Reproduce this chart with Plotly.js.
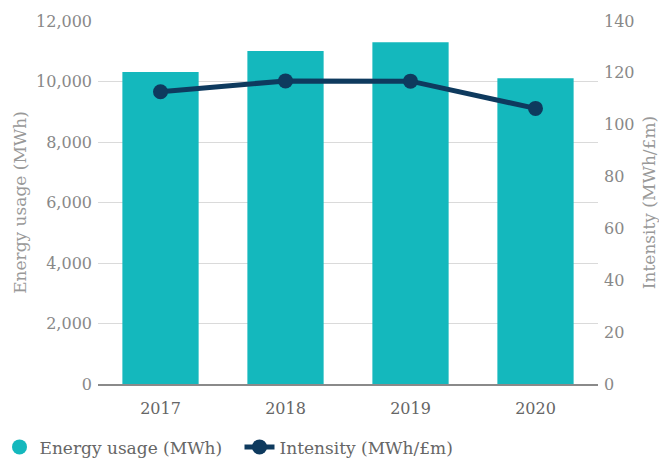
<!DOCTYPE html>
<html>
<head>
<meta charset="utf-8">
<script src="https://cdn.plot.ly/plotly-3.0.1.min.js"></script>
<style>
  html, body { margin: 0; padding: 0; background: #fff; }
  #chart { width: 659px; height: 458px; }
</style>
</head>
<body>
<div id="chart"></div>
<script>
// Annual energy usage (bars, left axis) and intensity (line, right axis)
const years = ['2017', '2018', '2019', '2020'];
const energyUsage = [10310, 11010, 11300, 10110];   // MWh
const intensity = [112.7, 116.9, 116.8, 106.3];     // MWh/£m

const teal = '#14b8bd';
const navy = '#0e3a5e';
const fontFamily = '"DejaVu Serif", "Liberation Serif", serif';

const traces = [
  {
    type: 'bar',
    x: years,
    y: energyUsage,
    marker: { color: teal },
    showlegend: false,
    hoverinfo: 'x+y'
  },
  // legend entry for the bars, shown as a round swatch
  {
    type: 'scatter',
    mode: 'markers',
    x: [null],
    y: [null],
    name: 'Energy usage (MWh)',
    marker: { color: teal, size: 15, symbol: 'circle' },
    showlegend: true
  },
  {
    type: 'scatter',
    mode: 'lines+markers',
    x: years,
    y: intensity,
    yaxis: 'y2',
    name: 'Intensity (MWh/£m)',
    line: { color: navy, width: 5 },
    marker: { color: navy, size: 15 }
  }
];

const layout = {
  width: 659,
  height: 458,
  margin: { l: 98, r: 61, t: 21, b: 74, autoexpand: false },
  paper_bgcolor: '#fff',
  plot_bgcolor: '#fff',
  font: { family: fontFamily, size: 17, color: '#777' },
  bargap: 0.39,
  showlegend: true,
  legend: {
    orientation: 'h',
    x: -0.197,
    xanchor: 'left',
    y: -0.125,
    yanchor: 'top',
    entrywidth: 195,
    font: { family: fontFamily, size: 17, color: '#666' },
    itemclick: false
  },
  xaxis: {
    type: 'category',
    showgrid: false,
    showline: true,
    linecolor: '#8a8a8a',
    linewidth: 1.5,
    ticks: '',
    ticklabelstandoff: 9,
    tickfont: { size: 16, color: '#666' }
  },
  yaxis: {
    range: [0, 12000],
    tickvals: [0, 2000, 4000, 6000, 8000, 10000, 12000],
    ticktext: ['0', '2,000', '4,000', '6,000', '8,000', '10,000', '12,000'],
    showgrid: true,
    gridcolor: '#dadada',
    gridwidth: 1,
    zeroline: false,
    ticks: '',
    ticklabelstandoff: 5,
    tickfont: { size: 16, color: '#888' },
    title: { text: 'Energy usage (MWh)', font: { size: 17, color: '#999' }, standoff: 5 }
  },
  yaxis2: {
    overlaying: 'y',
    side: 'right',
    range: [0, 140],
    tickvals: [0, 20, 40, 60, 80, 100, 120, 140],
    showgrid: false,
    zeroline: false,
    ticks: '',
    ticklabelstandoff: 5,
    tickfont: { size: 16, color: '#888' },
    title: { text: 'Intensity (MWh/£m)', font: { size: 17, color: '#999' }, standoff: 12 }
  }
};

Plotly.newPlot('chart', traces, layout, { displayModeBar: false, staticPlot: true });
</script>
</body>
</html>
